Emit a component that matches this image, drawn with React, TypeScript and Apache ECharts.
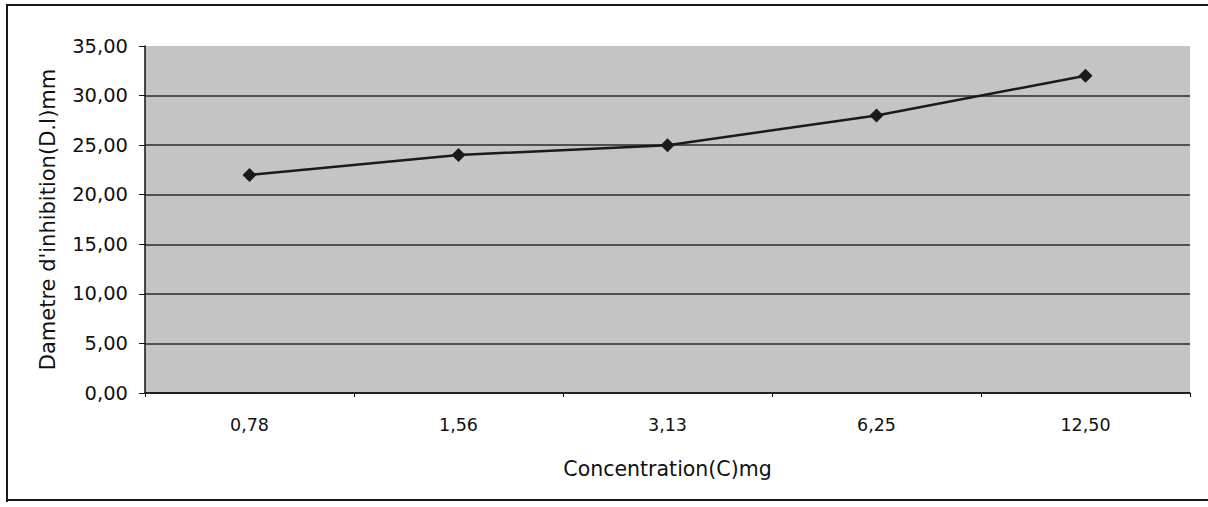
import React, { useEffect, useRef } from "react";
import * as echarts from "echarts";

const categories = ["0,78", "1,56", "3,13", "6,25", "12,50"];
const diameters = [22, 24, 25, 28, 32];
const yTitle = "Dametre d'inhibition(D.I)mm";
const xTitle = "Concentration(C)mg";

export default function App() {
  const ref = useRef<HTMLDivElement>(null);
  useEffect(() => {
    const chart = echarts.init(ref.current!, null, { renderer: "svg" });
    const gridColors = ["#2a2a2a", "#2a2a2a", "#2a2a2a", "#2a2a2a", "#2a2a2a", "#2a2a2a", "#2a2a2a", "rgba(0,0,0,0)"];
    const bar = { fill: "#1a1a1a", stroke: null, lineWidth: 0 };
    chart.setOption({
      animation: false,
      backgroundColor: "#ffffff",
      textStyle: { fontFamily: "DejaVu Sans, sans-serif" },
      graphic: [
        { type: "rect", id: "frameTop", shape: { x: 6, y: 4, width: 1202, height: 2 }, style: { ...bar }, silent: true, z: 100 },
        { type: "rect", id: "frameLeft", shape: { x: 6, y: 4, width: 2, height: 498 }, style: { ...bar }, silent: true, z: 100 },
        { type: "rect", id: "frameBottom", shape: { x: 6, y: 499, width: 1202, height: 2 }, style: { ...bar }, silent: true, z: 100 },
      ],
      grid: {
        left: 145,
        right: 18,
        top: 46,
        bottom: 114,
        show: true,
        backgroundColor: "#c4c4c4",
        borderWidth: 0,
      },
      xAxis: {
        type: "category",
        data: categories,
        boundaryGap: true,
        name: xTitle,
        nameLocation: "middle",
        nameGap: 65,
        nameTextStyle: { fontSize: 20.5, color: "#111" },
        axisLine: { lineStyle: { color: "#111", width: 1.5 } },
        axisTick: { show: true, length: 4, lineStyle: { color: "#111" } },
        axisLabel: { fontSize: 17.5, color: "#111", margin: 23 },
      },
      yAxis: {
        type: "value",
        min: 0,
        max: 35,
        interval: 5,
        name: yTitle,
        nameLocation: "middle",
        nameRotate: 90,
        nameGap: 87,
        nameTextStyle: { fontSize: 21, color: "#111" },
        axisLine: { show: true, lineStyle: { color: "#111", width: 1.5 } },
        axisTick: { show: true, length: 6, lineStyle: { color: "#111" } },
        axisLabel: {
          fontSize: 19.5,
          color: "#111",
          margin: 17,
          formatter: (v: number) => v.toFixed(2).replace(".", ","),
        },
        splitLine: { show: true, lineStyle: { color: gridColors, width: 1.5 } },
      },
      series: [
        {
          type: "line",
          data: diameters,
          symbol: "diamond",
          symbolSize: 14,
          lineStyle: { color: "#1a1a1a", width: 2.5 },
          itemStyle: { color: "#1a1a1a" },
        },
      ],
    });
    return () => chart.dispose();
  }, []);
  return (
    <div style={{ position: "fixed", left: 0, top: 0 }}>
      <div ref={ref} style={{ width: 1208, height: 507 }} />
    </div>
  );
}
